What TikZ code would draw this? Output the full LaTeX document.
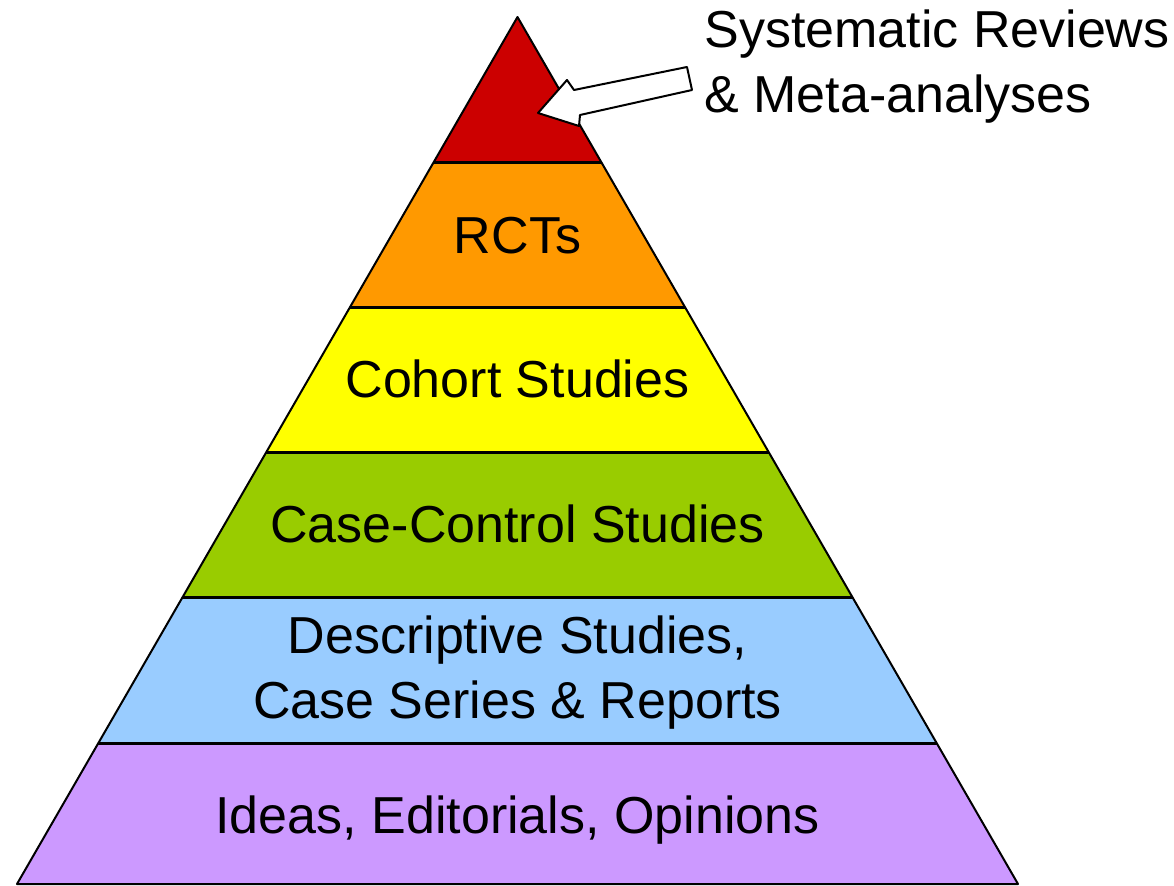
\documentclass[tikz,border=0pt]{standalone}
\usepackage{fontspec}
\setmainfont{Liberation Sans}
\usepackage{tikz}
\usetikzlibrary{positioning}

\definecolor{topred}{HTML}{CC0000}
\definecolor{rctorange}{HTML}{FF9900}
\definecolor{cohortyellow}{HTML}{FFFF00}
\definecolor{casegreen}{HTML}{99CC00}
\definecolor{descblue}{HTML}{99CCFF}
\definecolor{ideapurple}{HTML}{CC99FF}

\tikzset{
  level/.style={font=\fontsize{29.6}{36.9}\selectfont,anchor=base,align=center,inner sep=0pt},
  sep/.style={line width=0.06cm},
}

\begin{document}
\begin{tikzpicture}[x=0.02cm,y=-0.02cm]
  \useasboundingbox (0,0) rectangle (1174,886);

  % pyramid corners
  \coordinate (apex) at (517.5,17);
  \coordinate (bl) at (17,884);
  \coordinate (br) at (1018,884);

  \begin{scope}
    \clip (apex) -- (bl) -- (br) -- cycle;
    \fill[topred] (0,0) rectangle (1174,162);
    \fill[rctorange] (0,162) rectangle (1174,307);
    \fill[cohortyellow] (0,307) rectangle (1174,452);
    \fill[casegreen] (0,452) rectangle (1174,597);
    \fill[descblue] (0,597) rectangle (1174,743);
    \fill[ideapurple] (0,743) rectangle (1174,886);
    \draw[sep] (0,162) -- (1174,162);
    \draw[sep] (0,307) -- (1174,307);
    \draw[sep] (0,452) -- (1174,452);
    \draw[sep] (0,597) -- (1174,597);
    \draw[sep] (0,743) -- (1174,743);
  \end{scope}
  \draw[line width=0.04cm,line join=round] (apex) -- (bl) -- (br) -- cycle;

  % level labels (base = last line)
  \node[level] (rct) at (517.5,253) {RCTs};
  \node[level] (cohort) at (517.5,397) {Cohort Studies};
  \node[level] (casectl) at (517.5,542) {Case-Control Studies};
  \node[level] (descr) at (517.5,718) {Descriptive Studies,\\Case Series \& Reports};
  \node[level] (ideas) at (517.5,833) {Ideas, Editorials, Opinions};

  % callout for the top
  \node[level,anchor=base west,align=left] (sysrev) at (704,112) {Systematic Reviews\\\& Meta-analyses};
  \filldraw[fill=white,line width=0.04cm,line join=round]
    (538,113) -- (567,80) -- (574,90) -- (687,67) -- (692,90)
    -- (580,115) -- (579,126) -- cycle;
\end{tikzpicture}
\end{document}
